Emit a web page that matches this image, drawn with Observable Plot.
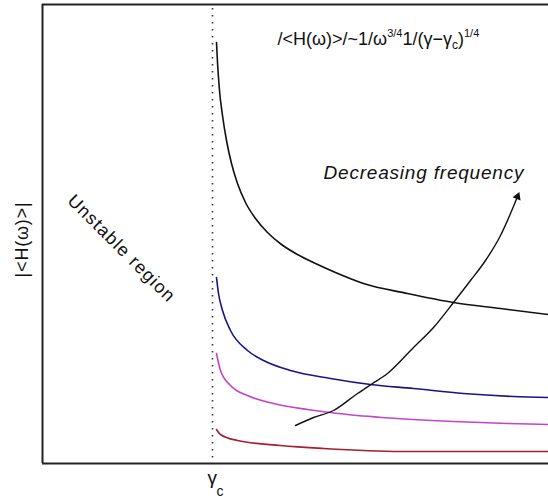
<!DOCTYPE html>
<html><head><meta charset="utf-8">
<script src="https://cdn.jsdelivr.net/npm/d3@7"></script>
<script src="https://cdn.jsdelivr.net/npm/@observablehq/plot@0.6"></script>
<style>body{margin:0;background:#fff} #chart{width:548px;height:504px}</style>
</head><body><div id="chart"></div>
<script>
// gamma measured from gamma_c (=0); response |<H(omega)>| in arbitrary units
const blackGamma = [0.04,0.05,0.07,0.10,0.14,0.19,0.25,0.33,0.43,0.55,0.69,0.85,1.03,1.23,1.51,1.95,2.41,2.88,3.36];
const blackH     = [4.21,4.01,3.73,3.48,3.23,3.00,2.80,2.61,2.45,2.31,2.19,2.09,2.00,1.91,1.80,1.70,1.61,1.55,1.49];
const blueGamma  = [0.04,0.06,0.10,0.18,0.35,0.51,0.78,1.18,1.58,2.01,2.51,3.01,3.36];
const blueH      = [1.86,1.70,1.53,1.33,1.13,1.03,0.93,0.85,0.79,0.75,0.70,0.67,0.66];
const magentaGamma = [0.04,0.08,0.18,0.35,0.61,0.95,1.35,1.85,2.41,2.95,3.36];
const magentaH     = [1.10,0.93,0.78,0.68,0.60,0.54,0.49,0.45,0.42,0.40,0.39];
const redGamma = [0.04,0.08,0.25,0.68,1.11,1.88,3.36];
const redH     = [0.34,0.29,0.23,0.18,0.15,0.12,0.12];
const arrowGamma = [0.83,1.01,1.21,1.45,1.60,1.75,2.01,2.21,2.41,2.58,2.73,2.88,2.98,3.05];
const arrowH     = [0.38,0.46,0.53,0.70,0.80,0.90,1.16,1.36,1.61,1.83,2.03,2.28,2.50,2.67];

const seriesNames = ["highest frequency","high frequency","lower frequency","lowest frequency"];
const seriesColors = ["#111111","#16168a","#c444c8","#a81e30"];
const seriesGamma = [blackGamma, blueGamma, magentaGamma, redGamma];
const seriesH = [blackH, blueH, magentaH, redH];

const formulaText = "/<H(ω)>/~1/ω3/41/(γ−γc)1/4";
const yLabel = "|<H(ω)>|";
const arrowLabel = "Decreasing frequency";
const regionLabel = "Unstable region";

const rows = seriesNames.flatMap((s, k) => seriesGamma[k].map((g, i) => ({series: s, gamma: g, H: seriesH[k][i]})));
const arrowRows = arrowGamma.map((g, i) => ({gamma: g, H: arrowH[i]}));

const chart = Plot.plot({
  width: 548, height: 504,
  marginLeft: 42, marginRight: 0, marginTop: 4, marginBottom: 41,
  x: {domain: [-1.70, 3.36], axis: null},
  y: {domain: [0, 4.59], axis: null},
  color: {domain: seriesNames, range: seriesColors},
  style: {fontFamily: "'Liberation Sans', Arial, sans-serif", background: "#fff", color: "#111"},
  marks: [
    Plot.ruleX([0], {y1: 4.55, y2: 0, stroke: "#333", strokeWidth: 1.6, strokeDasharray: "1.5 5.5"}),
    Plot.line(rows, {x: "gamma", y: "H", z: "series", stroke: "series", strokeWidth: 1.6, curve: "monotone-x"}),
    Plot.line(arrowRows, {x: "gamma", y: "H", stroke: "#111", strokeWidth: 1.4, curve: "monotone-x"}),
    Plot.dot(arrowRows.slice(-1), {x: "gamma", y: "H", symbol: "triangle", rotate: 22, r: 3.2, fill: "#111", stroke: "none"}),
    Plot.ruleY([0], {x1: -1.70, x2: 3.36, stroke: "#222", strokeWidth: 2}),
    Plot.ruleY([4.59], {x1: -1.70, x2: 3.36, stroke: "#222", strokeWidth: 2}),
    Plot.ruleX([-1.70], {y1: 0, y2: 4.59, stroke: "#222", strokeWidth: 2}),
    Plot.text([formulaText], {x: () => 0.65, y: () => 4.24, text: d => d, textAnchor: "start", fontSize: 18, fill: "#111"}),
    Plot.text([arrowLabel], {x: () => 1.11, y: () => 2.91, text: d => d, textAnchor: "start", fontSize: 19, fontStyle: "italic", fill: "#111"}),
    Plot.text([regionLabel], {x: () => -0.91, y: () => 2.15, text: d => d, rotate: 45, fontSize: 18, fill: "#111"}),
    Plot.text([yLabel], {x: () => -1.90, y: () => 2.24, text: d => d, rotate: -90, fontSize: 18, fill: "#111"}),
    Plot.text(["γ"], {x: () => -0.05, y: () => -0.14, text: d => d, textAnchor: "start", fontSize: 19, fill: "#111"}),
    Plot.text(["c"], {x: () => 0.04, y: () => -0.285, text: d => d, textAnchor: "start", fontSize: 14, fill: "#111"})
  ]
});
document.getElementById("chart").appendChild(chart);

const svg = d3.select(chart);
svg.selectAll("text").each(function() {
  const t = this.textContent;
  const sel = d3.select(this);
  if (t === formulaText) {
    sel.text(null);
    const parts = [
      {s: "/<H(ω)>/~1/ω", dy: 0, fs: null},
      {s: "3/4", dy: -8, fs: 11},
      {s: "1/(γ−γ", dy: 8, fs: null},
      {s: "c", dy: 4, fs: 12},
      {s: ")", dy: -4, fs: null},
      {s: "1/4", dy: -8, fs: 11}
    ];
    parts.forEach(p => {
      const ts = sel.append("tspan").text(p.s);
      if (p.dy) ts.attr("dy", p.dy);
      if (p.fs) ts.attr("font-size", p.fs);
    });
  } else if (t === arrowLabel) {
    sel.style("letter-spacing", "0.8px");
  } else if (t === regionLabel) {
    sel.style("letter-spacing", "1.2px");
  } else if (t === yLabel) {
    sel.style("letter-spacing", "0.8px");
  }
});
</script>
</body></html>
